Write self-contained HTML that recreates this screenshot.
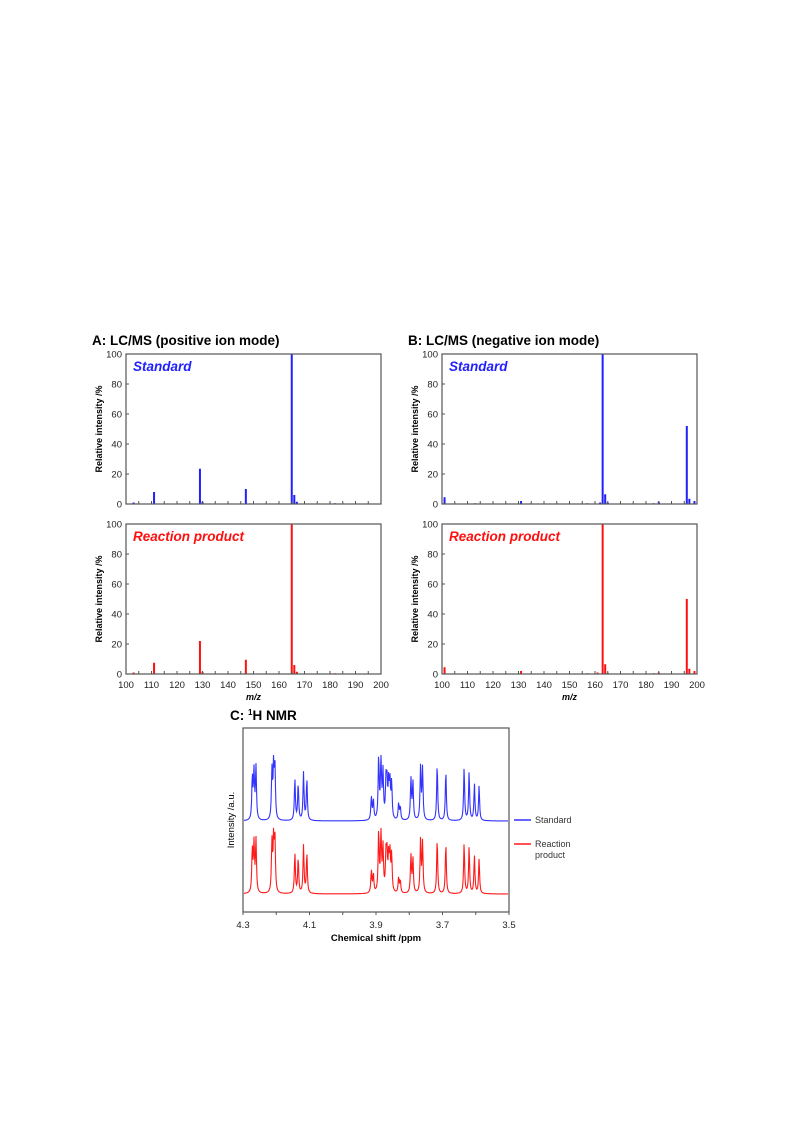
<!DOCTYPE html>
<html><head><meta charset="utf-8"><style>
html,body{margin:0;padding:0;background:#fff;}
svg{display:block;font-family:"Liberation Sans",Arial,sans-serif;}
</style></head><body>
<svg id="fig" width="792" height="1123" viewBox="0 0 792 1123"></svg>
<script>
// ---- Data ----
const msXTicks=[100,110,120,130,140,150,160,170,180,190,200];
const msYTicks=[0,20,40,60,80,100];
const posStdMz=[103,111,129,130,147,165,166,167,182];
const posStdInt=[1,8,23.5,1.5,10,100,6,1.5,0.5];
const posRxnMz=[103,111,129,130,147,165,166,167,182];
const posRxnInt=[1,7.5,22,1.5,9.5,100,6,1.5,0.5];
const negStdMz=[101,113,131,157,162,163,164,165,183,185,196,197,199];
const negStdInt=[4.5,0.5,2,0.5,1,100,6.5,1,0.5,1.5,52,3.5,2];
const negRxnMz=[101,113,131,157,161,163,164,165,183,185,196,197,199];
const negRxnInt=[4.5,0.3,2,0.5,1,100,6.5,0.8,0.5,1,50,3.5,2];
const nmrXTicks=[4.3,4.1,3.9,3.7,3.5];
const nmrPpm=[4.272,4.267,4.261,4.213,4.208,4.204,4.144,4.134,4.118,4.108,3.914,3.908,3.892,3.885,3.879,3.870,3.867,3.862,3.858,3.853,3.832,3.827,3.795,3.789,3.766,3.760,3.716,3.690,3.635,3.620,3.604,3.590];
const nmrStd=[0.68,0.75,0.84,0.78,0.84,0.82,0.66,0.58,0.76,0.66,0.37,0.32,1.0,1.0,0.74,0.58,0.53,0.58,0.55,0.58,0.26,0.21,0.66,0.61,0.84,0.82,0.9,0.79,0.84,0.77,0.58,0.55];
const nmrRxn=[0.7,0.76,0.84,0.8,0.85,0.84,0.64,0.56,0.76,0.64,0.36,0.3,0.98,1.0,0.7,0.56,0.55,0.56,0.58,0.6,0.24,0.2,0.6,0.55,0.84,0.8,0.87,0.8,0.8,0.74,0.6,0.55];

const NS="http://www.w3.org/2000/svg";
const svg=document.getElementById('fig');
function el(tag,attrs,parent,name,inter){const e=document.createElementNS(NS,tag);for(const k in attrs)e.setAttribute(k,attrs[k]);


(parent||svg).appendChild(e);return e;}
function txt(x,y,s,attrs,name,parent){const t=el('text',Object.assign({x:x,y:y},attrs),parent,name,false);t.textContent=s;return t;}

function msPanel(x0,x1,y0,y1,mz,inten,color,label,showX,pname){
  const g=el('g',{},svg,pname,false);
  const sx=v=>x0+(v-100)/100*(x1-x0);
  const sy=v=>y1-v/100*(y1-y0);
  for(let i=0;i<mz.length;i++){
    const b=el('rect',{x:sx(mz[i])-1,y:sy(inten[i]),width:2,height:Math.max(0.6,y1-sy(inten[i])),fill:color},g,'peak-'+mz[i],false);
  }
  el('rect',{x:x0,y:y0,width:x1-x0,height:y1-y0,fill:'none',stroke:'#555','stroke-width':1.2},g,'plot-frame',false);
  for(let v=100;v<=200;v+=5){el('line',{x1:sx(v),x2:sx(v),y1:y1,y2:y1-3,stroke:'#555','stroke-width':1},g,'x-tick',false);}
  msYTicks.forEach(v=>{el('line',{x1:x0,x2:x0+3,y1:sy(v),y2:sy(v),stroke:'#555'},g,'y-tick',false);
    txt(x0-4,sy(v)+3.5,String(v),{'font-size':9.5,'text-anchor':'end',fill:'#222'},'y-tick-label',g);});
  if(showX){msXTicks.forEach(v=>txt(sx(v),y1+14,String(v),{'font-size':9.5,'text-anchor':'middle',fill:'#222'},'x-tick-label',g));
    txt((x0+x1)/2,y1+26,'m/z',{'font-size':9,'font-weight':'bold','font-style':'italic','text-anchor':'middle'},'x-axis-title',g);}
  txt(x0-24,(y0+y1)/2,'Relative intensity /%',{'font-size':9,'font-weight':'bold','text-anchor':'middle',transform:`rotate(-90 ${x0-24} ${(y0+y1)/2})`},'y-axis-title',g);
  txt(x0+7,y0+17,label,{'font-size':13.5,'font-weight':'bold','font-style':'italic',fill:color},'panel-label',g);
}
txt(92,345,'A: LC/MS (positive ion mode)',{'font-size':13.5,'font-weight':'bold'},'panel-a-title');
txt(408,345,'B: LC/MS (negative ion mode)',{'font-size':13.5,'font-weight':'bold'},'panel-b-title');
msPanel(126,381,354,504,posStdMz,posStdInt,'#2020ff','Standard',false,'chart-a-standard');
msPanel(126,381,524,674,posRxnMz,posRxnInt,'#ff1010','Reaction product',true,'chart-a-reaction');
msPanel(442,697,354,504,negStdMz,negStdInt,'#2020ff','Standard',false,'chart-b-standard');
msPanel(442,697,524,674,negRxnMz,negRxnInt,'#ff1010','Reaction product',true,'chart-b-reaction');

// NMR
(function(){
  const x0=243,x1=509,y0=728,y1=912;
  const g=el('g',{},svg,'chart-c-nmr',false);
  const sx=p=>x0+(4.3-p)/0.8*(x1-x0);
  function trace(h,base,amp,color,name){
    let d='';const w=0.0018;
    for(let px=x0+1;px<=x1-1;px+=0.5){
      const p=4.3-(px-x0)/(x1-x0)*0.8;let s=0;
      for(let i=0;i<nmrPpm.length;i++){const dd=(p-nmrPpm[i])/w;s+=h[i]/(1+dd*dd);}
      d+=(d?'L':'M')+px.toFixed(1)+','+(base-Math.min(s,1.05)*amp).toFixed(1);
    }
    el('path',{d:d,fill:'none',stroke:color,'stroke-width':1.1},g,name,false);
  }
  trace(nmrStd,821,63,'#3333ff','standard-trace');
  trace(nmrRxn,894,63,'#ff1a1a','reaction-trace');
  el('rect',{x:x0,y:y0,width:x1-x0,height:y1-y0,fill:'none',stroke:'#555','stroke-width':1.2},g,'plot-frame',false);
  for(let p=4.3;p>=3.49;p-=0.1){el('line',{x1:sx(p),x2:sx(p),y1:y1,y2:y1+3,stroke:'#555'},g,'x-tick',false);}
  nmrXTicks.forEach(p=>txt(sx(p),y1+16,p.toFixed(1),{'font-size':9.5,'text-anchor':'middle',fill:'#222'},'x-tick-label',g));
  txt((x0+x1)/2,y1+29,'Chemical shift /ppm',{'font-size':9.5,'font-weight':'bold','text-anchor':'middle'},'x-axis-title',g);
  txt(234,(y0+y1)/2,'Intensity /a.u.',{'font-size':9.5,'text-anchor':'middle',transform:`rotate(-90 234 ${(y0+y1)/2})`},'y-axis-title',g);
  txt(230,720,'C: ',{'font-size':13.5,'font-weight':'bold'},'panel-c-title',g).innerHTML='C: <tspan font-size="8" dy="-5">1</tspan><tspan dy="5">H NMR</tspan>';
  el('line',{x1:514,x2:531,y1:820,y2:820,stroke:'#3333ff','stroke-width':1.5},g,'legend-standard-line',false);
  txt(535,823,'Standard',{'font-size':9,fill:'#333'},'legend-standard',g);
  el('line',{x1:514,x2:531,y1:844,y2:844,stroke:'#ff1a1a','stroke-width':1.5},g,'legend-reaction-line',false);
  txt(535,847,'Reaction',{'font-size':9,fill:'#333'},'legend-reaction',g);
  txt(535,858,'product',{'font-size':9,fill:'#333'},'legend-reaction-2',g);
})();
</script>
</body></html>
